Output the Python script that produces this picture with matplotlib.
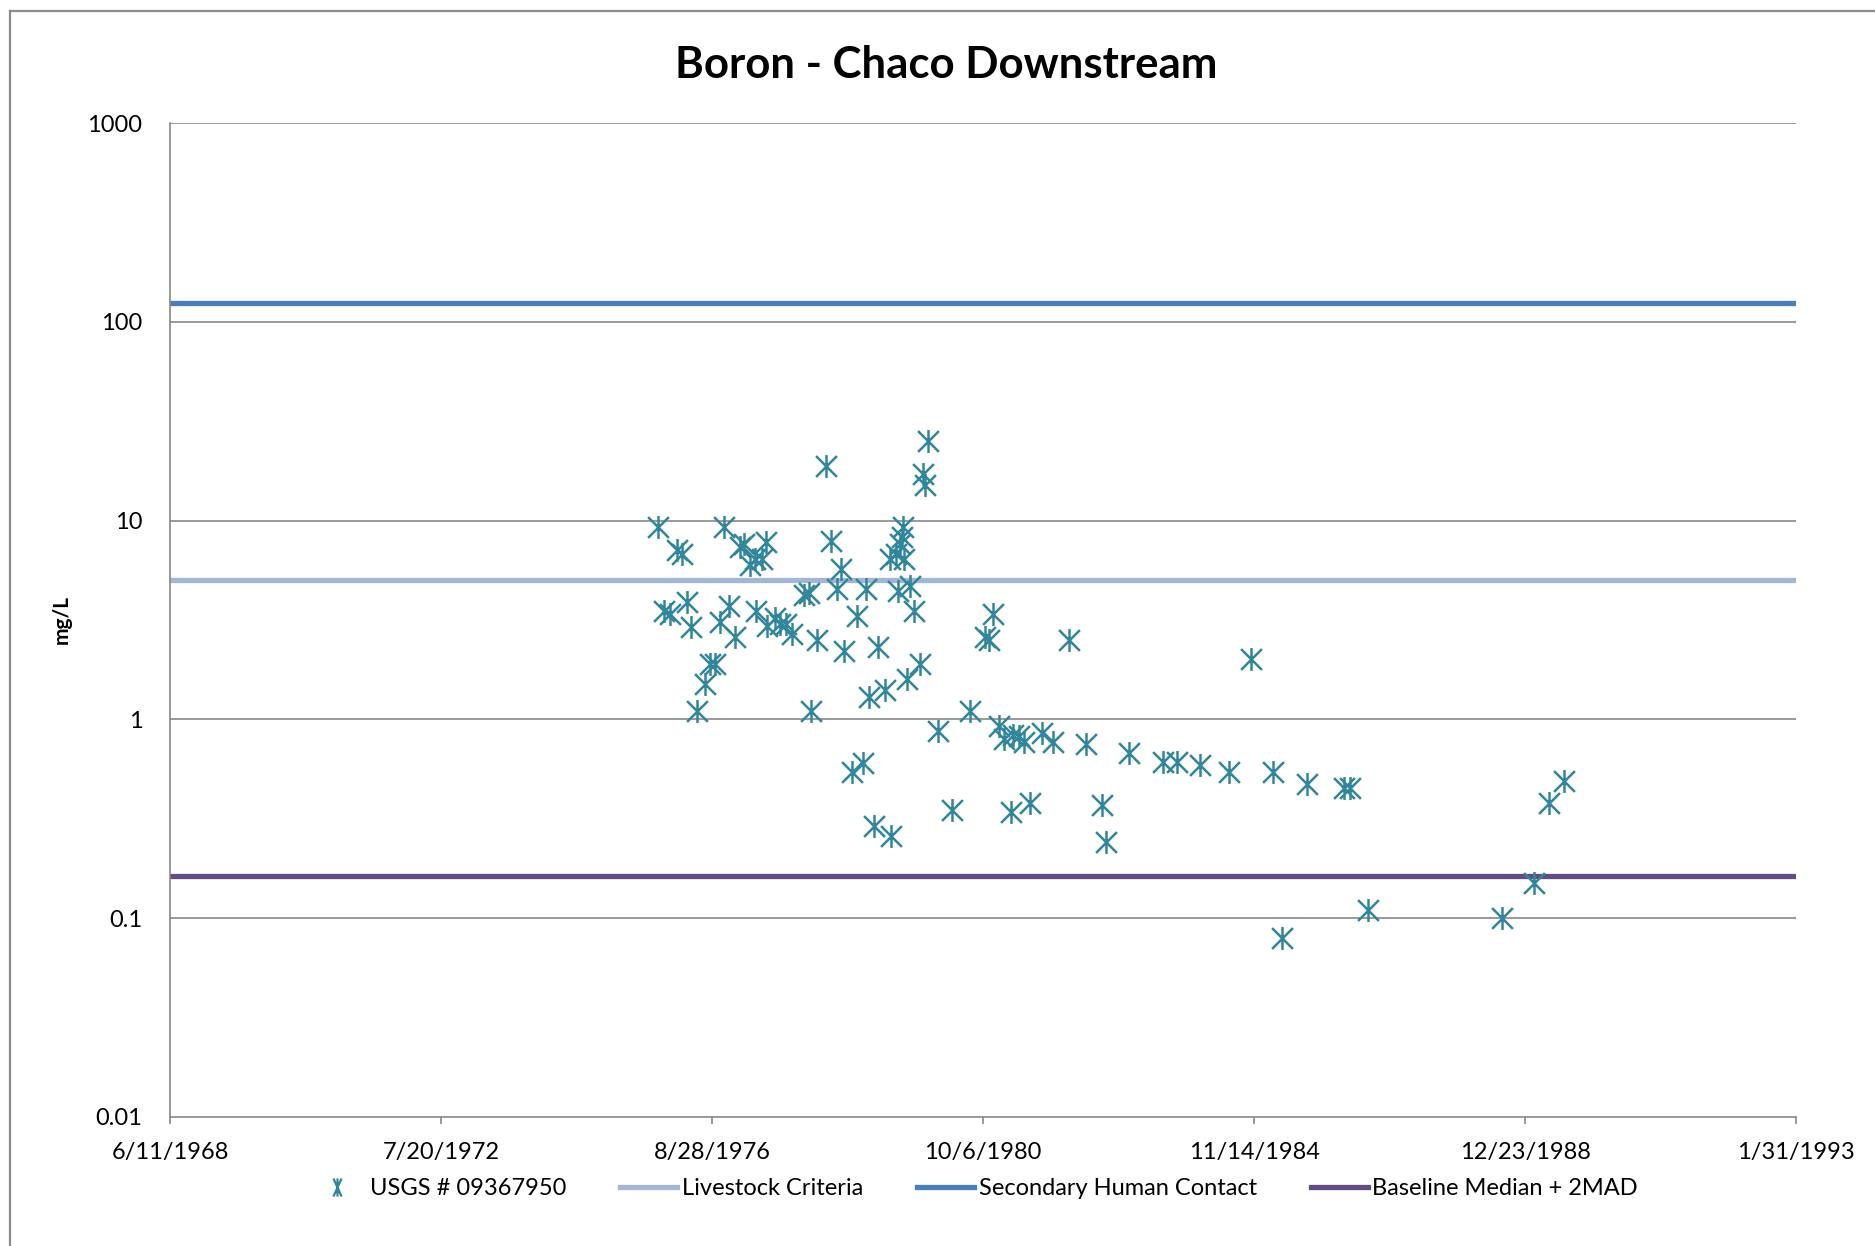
import pandas as pd
import numpy as np
import matplotlib
matplotlib.use('Agg')
import matplotlib.pyplot as plt
from matplotlib.path import Path
from matplotlib.lines import Line2D

# sample dates and boron values (mg/L)
sample_dates = [
    '1975-11-03', '1975-12-06', '1976-01-08', '1976-02-17', '1976-03-14',
    '1976-04-10', '1976-05-06', '1976-06-08', '1976-07-18', '1976-08-14',
    '1976-09-16', '1976-10-12', '1976-11-01', '1976-11-28', '1977-01-01',
    '1977-01-27', '1977-02-22', '1977-03-27', '1977-04-22', '1977-04-29',
    '1977-06-01', '1977-06-21', '1977-06-28', '1977-08-13', '1977-09-08',
    '1977-10-11', '1977-11-14', '1978-01-19', '1978-02-14', '1978-02-27',
    '1978-04-01', '1978-05-18', '1978-06-20', '1978-07-23', '1978-08-12',
    '1978-08-31', '1978-10-10', '1978-11-06', '1978-12-09', '1978-12-28',
    '1979-01-11', '1979-02-13', '1979-03-05', '1979-04-13', '1979-05-16',
    '1979-05-12', '1979-06-12', '1979-06-25', '1979-07-02', '1979-07-15',
    '1979-07-22', '1979-07-28', '1979-08-10', '1979-08-30', '1979-09-19',
    '1979-10-22', '1979-11-11', '1979-11-18', '1979-12-07', '1980-01-30',
    '1980-04-19', '1980-07-27', '1980-10-14', '1980-11-09', '1980-11-29',
    '1981-01-02', '1981-01-28', '1981-03-09', '1981-03-22', '1981-04-24',
    '1981-05-20', '1981-06-22', '1981-08-28', '1981-10-26', '1982-01-27',
    '1982-04-29', '1982-07-24', '1982-08-20', '1982-12-23', '1983-06-27',
    '1983-09-14', '1984-01-18', '1984-07-01', '1984-10-29', '1985-02-25',
    '1985-04-19', '1985-09-05', '1986-03-29', '1986-05-01', '1986-08-08',
    '1988-08-18', '1989-02-13', '1989-05-04', '1989-07-29',
]
boron = [
    9.3, 3.5, 3.4, 7.1, 6.8,
    3.9, 2.9, 1.1, 1.5, 1.9,
    1.9, 3.1, 9.3, 3.7, 2.6,
    7.4, 7.6, 6.0, 6.4, 3.5,
    6.4, 7.8, 2.95, 3.25, 3.0,
    3.0, 2.7, 4.2, 4.3, 1.1,
    2.5, 18.9, 7.9, 4.5, 5.7,
    2.2, 0.54, 3.3, 0.60, 4.5,
    1.3, 0.29, 2.3, 1.4, 0.26,
    6.4, 6.8, 4.4, 7.6, 8.3,
    9.3, 6.4, 1.6, 4.7, 3.5,
    1.9, 17.2, 15.1, 25.0, 0.87,
    0.35, 1.1, 2.6, 2.5, 3.4,
    0.93, 0.80, 0.34, 0.83, 0.82,
    0.77, 0.38, 0.85, 0.77, 2.5,
    0.75, 0.37, 0.24, 0.68, 0.61,
    0.61, 0.59, 0.54, 2.0, 0.54,
    0.079, 0.47, 0.45, 0.45, 0.11,
    0.10, 0.15, 0.38, 0.49,
]

# criteria lines
livestock = 5.0
secondary_contact = 125.0
baseline = 0.163

x_tick_labels = ['6/11/1968', '7/20/1972', '8/28/1976', '10/6/1980',
                 '11/14/1984', '12/23/1988', '1/31/1993']
y_ticks = [0.01, 0.1, 1, 10, 100, 1000]
y_tick_labels = ['0.01', '0.1', '1', '10', '100', '1000']

plt.rcParams['font.family'] = ['Lato', 'DejaVu Sans']

dates = pd.to_datetime(sample_dates)
x_ticks = pd.to_datetime(x_tick_labels, format='%m/%d/%Y')

# excel style asterisk marker: an X with a vertical bar
star = Path([(-1, -1), (1, 1), (-1, 1), (1, -1), (0, -1.1), (0, 1.1)],
            [Path.MOVETO, Path.LINETO] * 3)
star_narrow = Path([(-0.45, -1), (0.45, 1), (-0.45, 1), (0.45, -1), (0, -1), (0, 1)],
                   [Path.MOVETO, Path.LINETO] * 3)

pt_col = '#31869C'
live_col = '#A3B6D6'
sec_col = '#4A7EBB'
base_col = '#624C80'
grid_col = '#878787'

fig = plt.figure(figsize=(18.75, 12.46), dpi=100)
ax = fig.add_axes([0.0907, 0.1037, 0.8672, 0.7975])

ax.set_yscale('log')
ax.set_ylim(0.01, 1000)
ax.set_xlim(x_ticks[0], x_ticks[-1])

for yv in y_ticks[1:]:
    ax.axhline(yv, color=grid_col, lw=1.2, zorder=1)

ax.axhline(secondary_contact, color=sec_col, lw=3.8, zorder=2)
ax.axhline(livestock, color=live_col, lw=3.8, zorder=2)
ax.axhline(baseline, color=base_col, lw=3.8, zorder=2)

ax.plot(dates, boron, linestyle='', marker=star, markersize=16.5,
        markeredgecolor=pt_col, markerfacecolor='none', markeredgewidth=1.8,
        zorder=3)

ax.set_yticks(y_ticks)
ax.set_yticklabels(y_tick_labels)
ax.yaxis.set_minor_locator(matplotlib.ticker.NullLocator())
ax.set_xticks(x_ticks)
ax.set_xticklabels(x_tick_labels)

ax.tick_params(axis='y', length=0, pad=20, labelsize=17)
ax.tick_params(axis='x', length=5, width=1.2, color=grid_col, pad=13.5,
               labelsize=17)

for s in ['top', 'right']:
    ax.spines[s].set_visible(False)
for s in ['left', 'bottom']:
    ax.spines[s].set_color(grid_col)
    ax.spines[s].set_linewidth(1.2)

ax.set_ylabel('mg/L', fontsize=15, fontweight='bold')
ax.yaxis.set_label_coords(-0.0605, 0.5)

fig.text(0.5045, 0.948, 'Boron - Chaco Downstream', ha='center', va='center',
         fontsize=31.5, fontweight='bold')

handles = [
    Line2D([], [], linestyle='', marker=star_narrow, markersize=13,
           markeredgecolor=pt_col, markerfacecolor='none', markeredgewidth=1.6),
    Line2D([], [], color=live_col, lw=3.8),
    Line2D([], [], color=sec_col, lw=3.8),
    Line2D([], [], color=base_col, lw=3.8),
]
labels = ['USGS # 09367950', 'Livestock Criteria', 'Secondary Human Contact',
          'Baseline Median + 2MAD']
fig.legend(handles, labels, loc='center', bbox_to_anchor=(0.519, 0.0458),
           ncol=4, frameon=False, fontsize=17, handlelength=2.4,
           handletextpad=0.2, columnspacing=2.3)

# chart area border (only the top and left edges are visible in the image)
fig.add_artist(Line2D([0.0053, 1.0], [0.9912, 0.9912], color='#8C8C8C',
                      lw=1.6, transform=fig.transFigure))
fig.add_artist(Line2D([0.0053, 0.0053], [0.0, 0.9912], color='#8C8C8C',
                      lw=1.6, transform=fig.transFigure))

fig.savefig('out.png', dpi=100, facecolor='white')
